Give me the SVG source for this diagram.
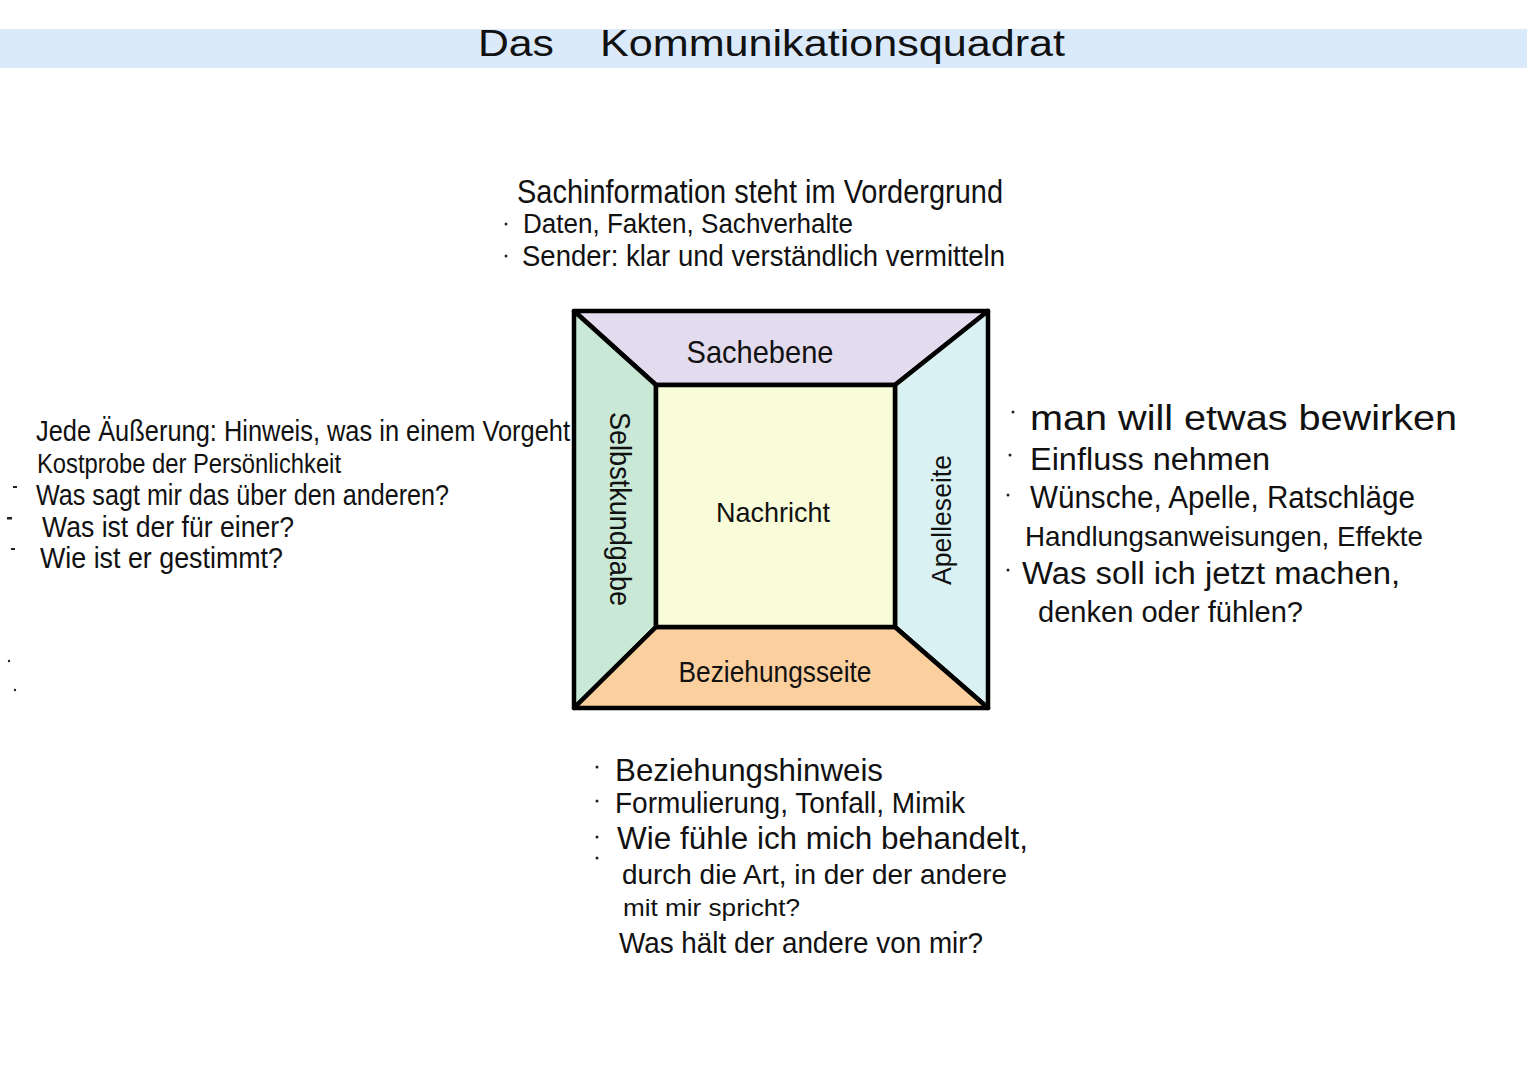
<svg xmlns="http://www.w3.org/2000/svg" width="1527" height="1080" viewBox="0 0 1527 1080">
<style>
.t{font-family:"Liberation Sans","DejaVu Sans",sans-serif;fill:#111;}
.p{stroke:#000;stroke-width:4.5;stroke-linejoin:round;}
.d{fill:#222;}
</style>
<rect width="1527" height="1080" fill="#ffffff"/>
<g id="title">
<rect x="0" y="29" width="1527" height="39" fill="#dbeafb"/>
<text class="t" x="478" y="56" font-size="36" textLength="76" lengthAdjust="spacingAndGlyphs">Das</text>
<text class="t" x="600" y="56" font-size="36" textLength="465" lengthAdjust="spacingAndGlyphs">Kommunikationsquadrat</text>
</g>
<g id="sach-notes">
<text class="t" x="517" y="203" font-size="33" textLength="486" lengthAdjust="spacingAndGlyphs">Sachinformation steht im Vordergrund</text>
<circle class="d" cx="506" cy="224" r="1.5"/>
<text class="t" x="523" y="233" font-size="27" textLength="330" lengthAdjust="spacingAndGlyphs">Daten, Fakten, Sachverhalte</text>
<circle class="d" cx="506" cy="256" r="1.5"/>
<text class="t" x="522" y="266" font-size="29" textLength="483" lengthAdjust="spacingAndGlyphs">Sender: klar und verständlich vermitteln</text>
</g>
<g id="selbst-notes">
<text class="t" x="36" y="441" font-size="29" textLength="534" lengthAdjust="spacingAndGlyphs">Jede Äußerung: Hinweis, was in einem Vorgeht</text>
<text class="t" x="37" y="473" font-size="27" textLength="304" lengthAdjust="spacingAndGlyphs">Kostprobe der Persönlichkeit</text>
<rect class="d" x="13" y="486" width="4" height="2"/>
<text class="t" x="36" y="505" font-size="29" textLength="413" lengthAdjust="spacingAndGlyphs">Was sagt mir das über den anderen?</text>
<rect class="d" x="7" y="517" width="5" height="2.5"/>
<text class="t" x="42" y="537" font-size="29" textLength="252" lengthAdjust="spacingAndGlyphs">Was ist der für einer?</text>
<rect class="d" x="11" y="548" width="4" height="2"/>
<text class="t" x="40" y="568" font-size="29" textLength="243" lengthAdjust="spacingAndGlyphs">Wie ist er gestimmt?</text>
<circle class="d" cx="9" cy="661" r="1.2"/>
<circle class="d" cx="15" cy="690" r="1.2"/>
</g>
<g id="appell-notes">
<circle class="d" cx="1013" cy="412" r="1.5"/>
<text class="t" x="1030" y="430" font-size="35" textLength="427" lengthAdjust="spacingAndGlyphs">man will etwas bewirken</text>
<circle class="d" cx="1010" cy="455" r="1.5"/>
<text class="t" x="1030" y="470" font-size="31" textLength="240" lengthAdjust="spacingAndGlyphs">Einfluss nehmen</text>
<circle class="d" cx="1008" cy="495" r="1.5"/>
<text class="t" x="1030" y="508" font-size="31" textLength="385" lengthAdjust="spacingAndGlyphs">Wünsche, Apelle, Ratschläge</text>
<text class="t" x="1025" y="546" font-size="28" textLength="398" lengthAdjust="spacingAndGlyphs">Handlungsanweisungen, Effekte</text>
<circle class="d" cx="1008" cy="570" r="1.5"/>
<text class="t" x="1022" y="584" font-size="31" textLength="378" lengthAdjust="spacingAndGlyphs">Was soll ich jetzt machen,</text>
<text class="t" x="1038" y="622" font-size="29" textLength="265" lengthAdjust="spacingAndGlyphs">denken oder fühlen?</text>
</g>
<g id="beziehung-notes">
<circle class="d" cx="597" cy="767" r="1.5"/>
<text class="t" x="615" y="781" font-size="32" textLength="268" lengthAdjust="spacingAndGlyphs">Beziehungshinweis</text>
<circle class="d" cx="597" cy="801" r="1.5"/>
<text class="t" x="615" y="813" font-size="29" textLength="350" lengthAdjust="spacingAndGlyphs">Formulierung, Tonfall, Mimik</text>
<circle class="d" cx="597" cy="837" r="1.5"/>
<text class="t" x="617" y="849" font-size="31" textLength="411" lengthAdjust="spacingAndGlyphs">Wie fühle ich mich behandelt,</text>
<circle class="d" cx="597" cy="858" r="1.5"/>
<text class="t" x="622" y="884" font-size="28" textLength="385" lengthAdjust="spacingAndGlyphs">durch die Art, in der der andere</text>
<text class="t" x="623" y="916" font-size="24" textLength="177" lengthAdjust="spacingAndGlyphs">mit mir spricht?</text>
<text class="t" x="619" y="953" font-size="30" textLength="364" lengthAdjust="spacingAndGlyphs">Was hält der andere von mir?</text>
</g>
<g id="sachebene">
<polygon class="p" points="574,311 988,311 895,385 656,385" fill="#e3dbee"/>
<text class="t" x="760" y="363" font-size="32" text-anchor="middle" textLength="147" lengthAdjust="spacingAndGlyphs">Sachebene</text>
</g>
<g id="selbstkundgabe">
<polygon class="p" points="574,311 656,385 656,627 574,708" fill="#c9e8d6"/>
<text class="t" transform="translate(610,509) rotate(90)" x="0" y="0" font-size="30" text-anchor="middle" textLength="194" lengthAdjust="spacingAndGlyphs">Selbstkundgabe</text>
</g>
<g id="appellseite">
<polygon class="p" points="988,311 988,708 895,627 895,385" fill="#d9f1f3"/>
<text class="t" transform="translate(951,520) rotate(-90)" x="0" y="0" font-size="28" text-anchor="middle" textLength="130" lengthAdjust="spacingAndGlyphs">Apelleseite</text>
</g>
<g id="beziehungsseite">
<polygon class="p" points="656,627 895,627 988,708 574,708" fill="#fccf9f"/>
<text class="t" x="775" y="682" font-size="30" text-anchor="middle" textLength="193" lengthAdjust="spacingAndGlyphs">Beziehungsseite</text>
</g>
<g id="nachricht">
<rect class="p" x="656" y="385" width="239" height="242" fill="#f8fcd8"/>
<text class="t" x="773" y="522" font-size="28" text-anchor="middle" textLength="114" lengthAdjust="spacingAndGlyphs">Nachricht</text>
</g>
<g id="connectors"></g>
</svg>
